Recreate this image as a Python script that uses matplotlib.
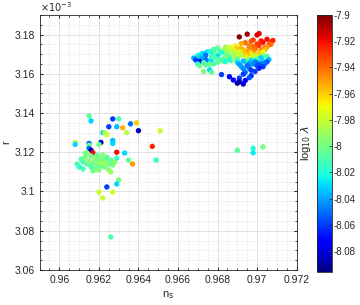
import numpy as np
import matplotlib
matplotlib.use('Agg')
import matplotlib.pyplot as plt
from matplotlib.ticker import MultipleLocator, FormatStrFormatter

plt.rcParams['font.family'] = ['Liberation Sans', 'DejaVu Sans']

# upper-right cluster: n_s, r (x1e-3), log10 lambda
ns_hi = [0.9695, 0.9700, 0.9701, 0.9691,
         0.9698, 0.9702, 0.9705, 0.9707,
         0.9694, 0.9697, 0.9700, 0.9703, 0.9706, 0.9708,
         0.9689, 0.9692, 0.9696, 0.9698, 0.9701, 0.9704, 0.9707,
         0.9684, 0.9687, 0.9690, 0.9693, 0.9696, 0.9699, 0.9702, 0.9705,
         0.9678, 0.9680, 0.9683, 0.9686, 0.9689, 0.9692, 0.9695, 0.9698, 0.9701, 0.9704,
         0.9675, 0.9678, 0.9681, 0.9685, 0.9687, 0.9690, 0.9693, 0.9696, 0.9699, 0.9703,
         0.9672, 0.9676, 0.9678, 0.9681, 0.9684, 0.9688, 0.9690, 0.9694, 0.9697, 0.9700, 0.9703,
         0.9670, 0.9673, 0.9677, 0.9679, 0.9682, 0.9685, 0.9688, 0.9691, 0.9695, 0.9698, 0.9701, 0.9705,
         0.9668, 0.9671, 0.9674, 0.9677, 0.9680, 0.9683, 0.9686, 0.9689, 0.9692, 0.9696, 0.9699, 0.9702, 0.9706,
         0.9669, 0.9672, 0.9675, 0.9678, 0.9681, 0.9684, 0.9687, 0.9690, 0.9694, 0.9697, 0.9700, 0.9703,
         0.9671, 0.9674, 0.9677, 0.9680, 0.9683, 0.9686, 0.9690, 0.9693, 0.9696, 0.9699, 0.9702, 0.9705,
         0.9670, 0.9673, 0.9676, 0.9680, 0.9684, 0.9691, 0.9695, 0.9698, 0.9701, 0.9704,
         0.9671, 0.9674, 0.9678, 0.9692, 0.9696, 0.9700, 0.9703,
         0.9676, 0.9693, 0.9697, 0.9701,
         0.9673, 0.9677, 0.9694, 0.9699,
         0.9682, 0.9693, 0.9697,
         0.9686, 0.9691, 0.9696,
         0.9688, 0.9691, 0.9694,
         0.9690, 0.9693,
         0.9690, 0.9698, 0.9698, 0.9703]
r_hi = [3.1802, 3.1798, 3.1805, 3.1788,
        3.1772, 3.1768, 3.1776, 3.1762,
        3.1758, 3.1766, 3.1752, 3.1760, 3.1748, 3.1770,
        3.1742, 3.1754, 3.1745, 3.1738, 3.1744, 3.1733, 3.1750,
        3.1736, 3.1726, 3.1731, 3.1722, 3.1735, 3.1728, 3.1720, 3.1736,
        3.1724, 3.1732, 3.1719, 3.1735, 3.1712, 3.1727, 3.1712, 3.1718, 3.1706, 3.1724,
        3.1712, 3.1721, 3.1705, 3.1712, 3.1726, 3.1704, 3.1716, 3.1702, 3.1694, 3.1710,
        3.1702, 3.1713, 3.1696, 3.1715, 3.1700, 3.1706, 3.1690, 3.1698, 3.1705, 3.1688, 3.1696,
        3.1694, 3.1704, 3.1688, 3.1698, 3.1708, 3.1691, 3.1697, 3.1712, 3.1684, 3.1692, 3.1680, 3.1689,
        3.1680, 3.1686, 3.1694, 3.1681, 3.1689, 3.1676, 3.1688, 3.1680, 3.1693, 3.1675, 3.1670, 3.1682, 3.1673,
        3.1670, 3.1677, 3.1665, 3.1684, 3.1670, 3.1678, 3.1666, 3.1674, 3.1662, 3.1668, 3.1658, 3.1666,
        3.1662, 3.1671, 3.1660, 3.1676, 3.1664, 3.1671, 3.1658, 3.1665, 3.1652, 3.1660, 3.1652, 3.1661,
        3.1650, 3.1657, 3.1648, 3.1659, 3.1662, 3.1648, 3.1642, 3.1650, 3.1644, 3.1652,
        3.1640, 3.1645, 3.1650, 3.1637, 3.1630, 3.1641, 3.1636,
        3.1620, 3.1626, 3.1618, 3.1628,
        3.1612, 3.1608, 3.1608, 3.1612,
        3.1596, 3.1598, 3.1590,
        3.1585, 3.1578, 3.1580,
        3.1568, 3.1560, 3.1566,
        3.1552, 3.1548,
        3.121, 3.122, 3.1197, 3.1227]
lam_hi = [-7.905, -7.915, -7.918, -7.903,
          -7.930, -7.925, -7.920, -7.928,
          -7.940, -7.935, -7.930, -7.922, -7.930, -7.925,
          -7.970, -7.955, -7.945, -7.940, -7.930, -7.935, -7.940,
          -7.990, -7.980, -7.960, -7.950, -7.945, -7.940, -7.945, -7.950,
          -8.020, -8.000, -7.990, -7.975, -7.965, -7.955, -7.950, -7.945, -7.960, -7.955,
          -8.030, -8.010, -8.000, -7.990, -7.980, -7.970, -7.960, -7.950, -7.955, -7.970,
          -8.025, -8.020, -8.030, -8.010, -7.995, -7.985, -7.975, -7.960, -7.965, -7.975, -7.990,
          -8.020, -8.030, -8.015, -8.000, -8.020, -8.005, -7.990, -7.980, -7.975, -7.980, -8.000, -8.010,
          -8.040, -8.030, -8.050, -8.020, -8.030, -8.010, -8.000, -7.990, -7.985, -7.990, -8.020, -8.030, -8.035,
          -8.060, -8.040, -8.030, -8.010, -8.020, -8.000, -7.995, -8.005, -8.020, -8.030, -8.040, -8.030,
          -8.070, -8.050, -8.030, -8.010, -8.000, -8.020, -8.030, -8.035, -8.040, -8.050, -8.045, -8.055,
          -8.020, -8.010, -8.000, -8.005, -8.020, -8.040, -8.050, -8.045, -8.060, -8.050,
          -8.000, -8.005, -8.010, -8.040, -8.050, -8.055, -8.060,
          -8.030, -8.045, -8.060, -8.065,
          -8.000, -8.005, -8.050, -8.060,
          -8.060, -8.060, -8.065,
          -8.070, -8.060, -8.055,
          -8.075, -8.080, -8.070,
          -8.090, -8.080,
          -8.005, -8.020, -8.025, -8.000]

# lower-left cluster
ns_lo = [0.9615, 0.9616, 0.9627, 0.9630, 0.9625, 0.9629, 0.9632, 0.9636, 0.9639, 0.9640,
         0.9634, 0.9651, 0.9622, 0.9623, 0.9624, 0.9627, 0.9627, 0.9621, 0.9620, 0.9615,
         0.9615, 0.9608, 0.9608, 0.9615, 0.9647, 0.9616, 0.9617, 0.9629, 0.9633, 0.9629,
         0.9635, 0.9637, 0.9649, 0.9625, 0.9626, 0.9630, 0.9629, 0.9624, 0.9620, 0.9627,
         0.9622, 0.9626,
         0.9610, 0.9612, 0.9611, 0.9613, 0.9614, 0.9615, 0.9616, 0.9616, 0.9617, 0.9618,
         0.9618, 0.9619, 0.9619, 0.9620, 0.9620, 0.9621, 0.9621, 0.9622, 0.9622, 0.9623,
         0.9623, 0.9624, 0.9624, 0.9625, 0.9626, 0.9627, 0.9628, 0.9612, 0.9614, 0.9617,
         0.9620, 0.9613, 0.9609]
r_lo = [3.1385, 3.136, 3.137, 3.137, 3.133, 3.133, 3.1325, 3.1345, 3.135, 3.131,
        3.130, 3.131, 3.130, 3.130, 3.129, 3.126, 3.1245, 3.125, 3.124, 3.1245,
        3.1235, 3.125, 3.124, 3.122, 3.123, 3.121, 3.1197, 3.120, 3.1196, 3.117,
        3.116, 3.114, 3.116, 3.111, 3.110, 3.1059, 3.1038, 3.1023, 3.0997, 3.0997,
        3.0967, 3.0768,
        3.1125, 3.115, 3.1165, 3.1175, 3.114, 3.1155, 3.1125, 3.118, 3.1145, 3.1165,
        3.1115, 3.1135, 3.1185, 3.1155, 3.117, 3.113, 3.1145, 3.116, 3.1185, 3.1125,
        3.1145, 3.116, 3.1175, 3.114, 3.116, 3.1135, 3.115, 3.1115, 3.1195, 3.1105,
        3.111, 3.1195, 3.114]
lam_lo = [-8.005, -8.030, -8.060, -8.010, -8.060, -8.035, -7.955, -8.050, -7.960, -8.085,
          -7.985, -7.980, -8.030, -7.985, -7.980, -8.035, -8.030, -8.085, -8.000, -8.050,
          -8.000, -7.980, -8.030, -8.050, -7.925, -8.090, -7.920, -7.920, -8.030, -8.015,
          -8.005, -7.950, -8.015, -7.995, -7.990, -8.000, -8.030, -8.060, -7.980, -7.980,
          -7.980, -8.010,
          -8.020, -8.010, -8.005, -8.000, -8.005, -7.995, -8.010, -8.000, -8.000, -7.995,
          -8.005, -8.000, -8.005, -7.995, -8.000, -8.005, -7.990, -8.000, -7.995, -8.000,
          -7.990, -7.995, -8.005, -8.000, -8.005, -8.000, -7.995, -8.010, -7.995, -8.000,
          -7.995, -8.000, -8.010]

ns = np.array(ns_lo + ns_hi)
r = np.array(r_lo + r_hi) * 1e-3
lam = np.array(lam_lo + lam_hi)

fig = plt.figure(figsize=(3.6, 3.05), dpi=100)
ax = fig.add_axes([0.110, 0.115, 0.714, 0.836])
sc = ax.scatter(ns, r, c=lam, cmap='jet', vmin=-8.096, vmax=-7.9, s=15,
                edgecolors='none', zorder=3)

ax.set_xlim(0.959, 0.972)
ax.xaxis.set_major_locator(MultipleLocator(0.002))
ax.xaxis.set_minor_locator(MultipleLocator(0.0005))
ax.yaxis.set_major_locator(MultipleLocator(0.02e-3))
ax.yaxis.set_minor_locator(MultipleLocator(0.005e-3))
ax.xaxis.set_major_formatter(FormatStrFormatter('%g'))
ax.set_yticks(np.arange(3.06, 3.181, 0.02) * 1e-3)
ax.set_yticklabels(['%g' % round(v, 2) for v in np.arange(3.06, 3.181, 0.02)])
ax.set_ylim(3.06e-3, 3.19e-3)
ax.grid(which='major', color='#dcdcdc', lw=0.6, zorder=0)
ax.grid(which='minor', color='#d0d0d0', lw=0.5, ls=(0, (1, 2)), zorder=0)
ax.tick_params(which='both', direction='in', top=True, right=True,
               labelsize=7.5, colors='#262626', length=2.5)
ax.tick_params(which='minor', length=1.5)
for s in ax.spines.values():
    s.set_color('#262626')
    s.set_linewidth(0.6)
ax.text(0.0, 1.005, r'$\times10^{-3}$', transform=ax.transAxes, fontsize=7,
        color='#262626', va='bottom', ha='left')
ax.set_ylabel('r', fontsize=8, color='#262626', labelpad=2)
ax.set_xlabel(r'n$_\mathrm{s}$', fontsize=8, color='#262626', labelpad=3)

cax = fig.add_axes([0.880, 0.108, 0.042, 0.843])
cb = fig.colorbar(sc, cax=cax)
cb.set_ticks([-7.9, -7.92, -7.94, -7.96, -7.98, -8, -8.02, -8.04, -8.06, -8.08])
cb.set_ticklabels(['-7.9', '-7.92', '-7.94', '-7.96', '-7.98', '-8', '-8.02',
                   '-8.04', '-8.06', '-8.08'])
cb.ax.tick_params(labelsize=7, colors='#262626', direction='in', length=2.5,
                  width=0.5, pad=1.5)
cb.outline.set_linewidth(0.6)
cb.outline.set_edgecolor('#262626')
cb.set_label(r'log$_{10}$ $\lambda$', fontsize=8, color='#262626', labelpad=3,
             rotation=90)
cb.ax.yaxis.set_label_position('left')

fig.savefig('out.png', dpi=100)
